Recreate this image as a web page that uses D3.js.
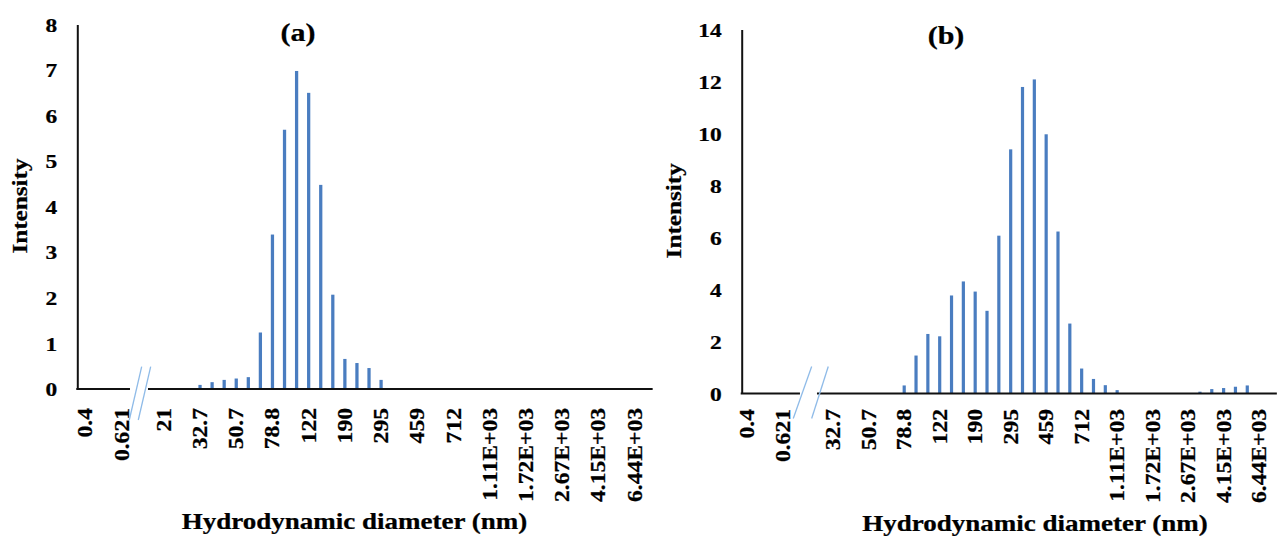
<!DOCTYPE html>
<html>
<head>
<meta charset="utf-8">
<script src="https://cdn.jsdelivr.net/npm/d3@7"></script>
<style>
  body { margin: 0; background: #fff; }
  svg text { font-family: "Liberation Serif", "Times New Roman", serif; font-weight: bold; fill: #000;
             stroke: #000; stroke-width: 0.25px; }
</style>
</head>
<body>
<div id="chart"></div>
<script>
// ---- data: panel (a) ----
const binsA = ['0.4','0.4632','0.5365','0.6213','0.7195','0.8332',
  '18.17','21.04','24.36','28.21','32.67','37.84','43.82','50.75','58.77','68.06',
  '78.82','91.28','105.7','122.4','141.8','164.2','190.1','220.2','255','295.3',
  '342','396.1','458.7','531.2','615.1','712.4','825','955.4','1106','1281',
  '1484','1718','1990','2305','2669','3091','3580','4145','4801','5560','6439','7456'];
const intensityA = [0,0,0,0,0,0,
  0,0,0,0,0.09,0.15,0.2,0.23,0.26,1.24,
  3.39,5.69,6.98,6.5,4.48,2.07,0.66,0.57,0.46,0.2,
  0,0,0,0,0,0,0,0,0,0,
  0,0,0,0,0,0,0,0,0,0,0,0];
const tickBinsA = ['0.4','0.6213','21.04','32.67','50.75','78.82','122.4','190.1','295.3',
  '458.7','712.4','1106','1718','2669','4145','6439'];
const tickTextA = ['0.4','0.621','21','32.7','50.7','78.8','122','190','295',
  '459','712','1.11E+03','1.72E+03','2.67E+03','4.15E+03','6.44E+03'];
const yTicksA = [0,1,2,3,4,5,6,7,8];

// ---- data: panel (b) ----
const binsB = ['0.4','0.4632','0.5365','0.6213','0.7195','0.8332',
  '28.21','32.67','37.84','43.82','50.75','58.77','68.06',
  '78.82','91.28','105.7','122.4','141.8','164.2','190.1','220.2','255','295.3',
  '342','396.1','458.7','531.2','615.1','712.4','825','955.4','1106','1281',
  '1484','1718','1990','2305','2669','3091','3580','4145','4801','5560','6439','7456'];
const intensityB = [0,0,0,0,0,0,
  0,0,0,0,0,0,0,
  0.31,1.46,2.29,2.2,3.77,4.31,3.92,3.18,6.07,9.39,
  11.79,12.08,9.97,6.23,2.69,0.96,0.56,0.32,0.13,0,
  0,0,0,0,0,0.07,0.17,0.21,0.26,0.31,0,0];
const tickBinsB = ['0.4','0.6213','32.67','50.75','78.82','122.4','190.1','295.3',
  '458.7','712.4','1106','1718','2669','4145','6439'];
const tickTextB = ['0.4','0.621','32.7','50.7','78.8','122','190','295',
  '459','712','1.11E+03','1.72E+03','2.67E+03','4.15E+03','6.44E+03'];
const yTicksB = [0,2,4,6,8,10,12,14];

const barColor = '#4a7dc0';
const slashColor = '#8fbbe8';
const stretch = 1.2;   // the source text is drawn wider than the font

const svg = d3.select('#chart').append('svg')
  .attr('width', 1277).attr('height', 540);

function drawPanel(c) {
  const g = svg.append('g');

  const x = d3.scaleBand().domain(c.bins)
    .range([c.x0, c.x0 + c.bins.length * c.step])
    .paddingInner(0.73).paddingOuter(0.365);
  const y = d3.scaleLinear().domain([0, c.yMax]).range([c.base, c.top]);
  const breakIdx = c.bins.indexOf(c.breakBin);
  const bc = x(c.breakBin) + x.bandwidth() / 2;

  // bars
  g.selectAll('.bar').data(c.bins.map((b, i) => ({bin: b, v: c.values[i]})).filter(d => d.v > 0))
    .enter().append('rect')
    .attr('class', 'bar')
    .attr('x', d => x(d.bin))
    .attr('width', x.bandwidth())
    .attr('y', d => y(d.v))
    .attr('height', d => y(0) - y(d.v))
    .attr('fill', barColor);

  // y axis
  const yAxis = g.append('g')
    .attr('transform', `translate(${c.axisX},0)`)
    .call(d3.axisLeft(y).tickValues(c.yTicks).tickSize(0).tickSizeOuter(0).tickPadding(0));
  yAxis.select('.domain').attr('stroke', '#111').attr('stroke-width', 2);
  yAxis.selectAll('.tick text')
    .attr('x', 0).attr('dy', '0.34em')
    .attr('transform', `translate(-20,0) scale(${stretch},1)`)
    .style('font-size', '19.5px');

  // x axis (labels only, line drawn with the break below)
  const xAxis = g.append('g')
    .attr('transform', `translate(0,${c.base})`)
    .call(d3.axisBottom(x).tickValues(c.tickBins).tickSize(0)
      .tickFormat(d => c.tickText[c.tickBins.indexOf(d)]));
  xAxis.select('.domain').remove();
  xAxis.selectAll('.tick text')
    .attr('x', 0).attr('y', 0).attr('dy', '0.35em')
    .attr('text-anchor', 'end')
    .attr('transform', d => {
      const shift = c.bins.indexOf(d) < breakIdx ? c.preShift : 0;
      return `translate(${shift},${c.labelTop - c.base}) rotate(-90) scale(1.18,1)`;
    })
    .style('font-size', '20px');

  // x axis line with a gap at the break
  const xEnd = x.range()[1];
  g.append('line').attr('x1', c.axisX - 1).attr('x2', bc + c.gap[0])
    .attr('y1', c.base).attr('y2', c.base).attr('stroke', '#111').attr('stroke-width', 2);
  g.append('line').attr('x1', bc + c.gap[1]).attr('x2', xEnd)
    .attr('y1', c.base).attr('y2', c.base).attr('stroke', '#111').attr('stroke-width', 2);

  // break slashes
  [0, 1].forEach(k => {
    g.append('line')
      .attr('x1', bc + c.slash.top[k]).attr('y1', c.base - c.slash.up)
      .attr('x2', bc + c.slash.bottom[k]).attr('y2', c.base + c.slash.down)
      .attr('stroke', slashColor).attr('stroke-width', 1.3);
  });

  // titles
  g.append('text').text(c.title)
    .attr('text-anchor', 'middle')
    .attr('transform', `translate(${c.titleX},${c.titleY}) scale(${stretch},1)`)
    .style('font-size', '25px');
  g.append('text').text('Intensity')
    .attr('text-anchor', 'middle')
    .attr('transform', `translate(${c.yTitleX},${c.yTitleY}) rotate(-90) scale(${stretch},1)`)
    .style('font-size', '21px');
  g.append('text').text('Hydrodynamic diameter (nm)')
    .attr('text-anchor', 'middle')
    .attr('transform', `translate(${c.xTitleX},${c.xTitleY}) scale(${stretch},1)`)
    .style('font-size', '22.5px');
}

drawPanel({
  bins: binsA, values: intensityA, tickBins: tickBinsA, tickText: tickTextA,
  yMax: 8, yTicks: yTicksA,
  x0: 73.3, step: 12.07, axisX: 77.3, top: 24.5, base: 389, labelTop: 408,
  breakBin: '0.8332', preShift: 6,
  gap: [-9.7, 8.3], slash: {top: [2, 11], bottom: [-10.4, -1.4], up: 22.3, down: 31},
  title: '(a)', titleX: 298, titleY: 41,
  yTitleX: 27.2, yTitleY: 206, xTitleX: 354.5, xTitleY: 529
});

drawPanel({
  bins: binsB, values: intensityB, tickBins: tickBinsB, tickText: tickTextB,
  yMax: 14, yTicks: yTicksB,
  x0: 744.5, step: 11.83, axisX: 741.7, top: 29.5, base: 393.5, labelTop: 409,
  breakBin: '0.8332', preShift: -3,
  gap: [-9.6, 7.4], slash: {top: [2.1, 18.7], bottom: [-16.3, 2.1], up: 27, down: 25},
  title: '(b)', titleX: 946, titleY: 44,
  yTitleX: 681, yTitleY: 210.8, xTitleX: 1035, xTitleY: 531
});
</script>
</body>
</html>
